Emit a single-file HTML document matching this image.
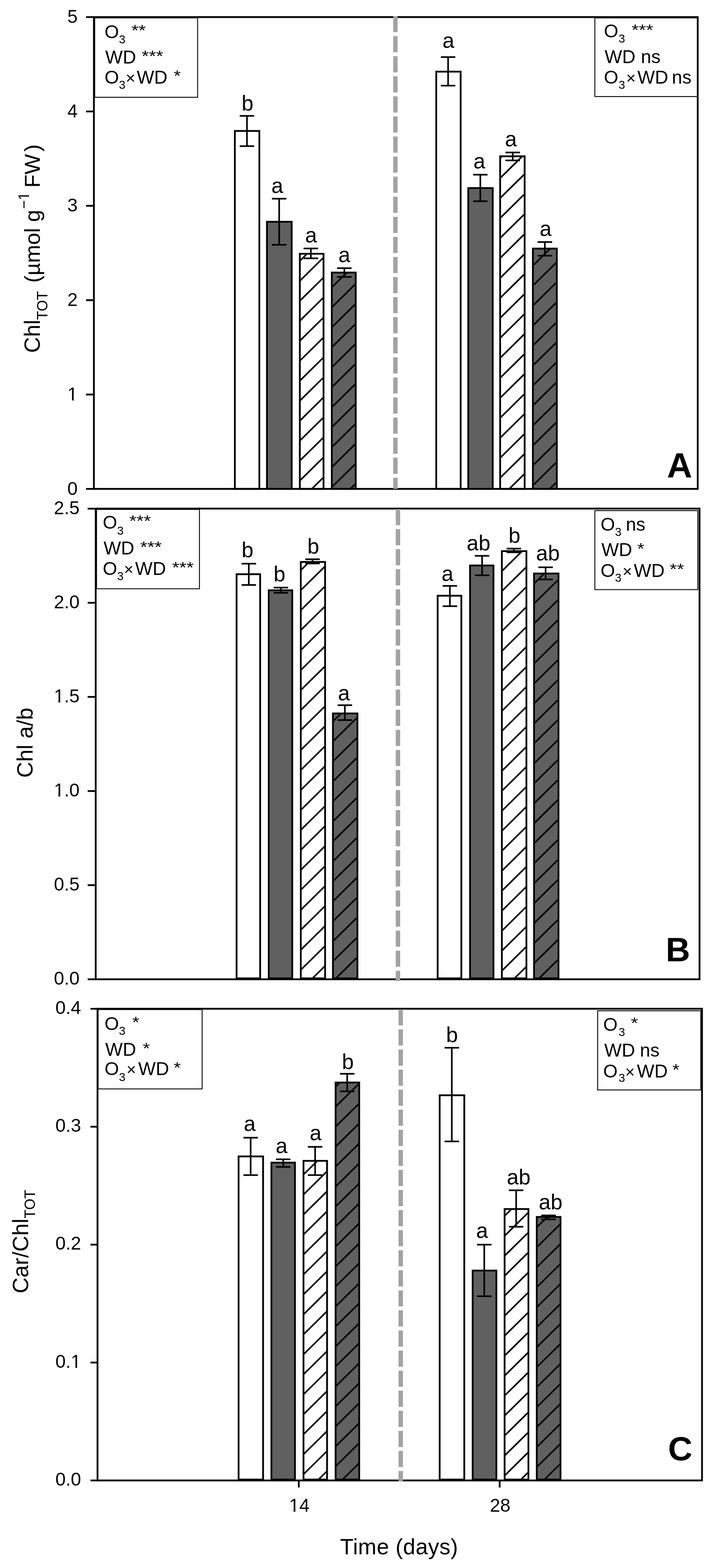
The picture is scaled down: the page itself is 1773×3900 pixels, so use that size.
<!DOCTYPE html><html><head><meta charset="utf-8"><title>Figure</title>
<style>html,body{margin:0;padding:0;background:#fff;}svg{display:block;}text{font-family:"Liberation Sans", Arial, sans-serif;fill:#000;}</style></head><body>
<svg width="1773" height="3900" viewBox="0 0 1773 3900">
<rect x="0" y="0" width="1773" height="3900" fill="#fff"/>
<defs><clipPath id="c1"><rect x="747.8" y="633.4" width="54.5" height="580.4"/></clipPath><clipPath id="c2"><rect x="827.3" y="680.1" width="55.1" height="533.7"/></clipPath><clipPath id="c3"><rect x="1245.9" y="390.9" width="56.5" height="822.9"/></clipPath><clipPath id="c4"><rect x="1327.3" y="620.5" width="55.1" height="593.3"/></clipPath><clipPath id="c5"><rect x="750.2" y="1399.9" width="56.0" height="1031.3"/></clipPath><clipPath id="c6"><rect x="830.1" y="1776.7" width="56.5" height="654.5"/></clipPath><clipPath id="c7"><rect x="1250.2" y="1373.0" width="56.6" height="1058.2"/></clipPath><clipPath id="c8"><rect x="1330.1" y="1428.7" width="56.5" height="1002.5"/></clipPath><clipPath id="c9"><rect x="756.9" y="2889.5" width="54.2" height="788.3"/></clipPath><clipPath id="c10"><rect x="836.8" y="2694.7" width="54.2" height="983.1"/></clipPath><clipPath id="c11"><rect x="1257.0" y="3009.4" width="54.8" height="668.4"/></clipPath><clipPath id="c12"><rect x="1337.0" y="3029.0" width="54.6" height="648.8"/></clipPath><clipPath id="nofoot2" clipPathUnits="userSpaceOnUse"><path clip-rule="evenodd" d="M-1000 -100H0V100H-1000ZM-496.34 -30.28H-489.09V-25.10H-496.34ZM-485.46 -30.28H-478.21V-25.10H-485.46Z"/></clipPath><clipPath id="nofoot" clipPathUnits="userSpaceOnUse"><path clip-rule="evenodd" d="M0 0H1773V3900H0ZM169.92 991.84H178.93V997.80H169.92ZM183.44 991.84H192.46V997.80H183.44ZM136.15 1976.84H145.17V1982.80H136.15ZM149.68 1976.84H158.69V1982.80H149.68ZM136.15 1742.74H145.17V1748.70H136.15ZM149.68 1742.74H158.69V1748.70H149.68ZM178.32 3397.64H187.33V3403.60H178.32ZM191.84 3397.64H200.86V3403.60H191.84ZM721.02 3755.64H730.03V3761.60H721.02ZM734.54 3755.64H743.56V3761.60H734.54Z"/></clipPath></defs>
<rect x="584.0" y="325.7" width="60.9" height="890.3" fill="#fff"/>
<rect x="584.0" y="325.7" width="60.9" height="890.3" fill="none" stroke="#000" stroke-width="4.4"/>
<rect x="663.8" y="551.6" width="61.5" height="664.4" fill="#606060"/>
<rect x="663.8" y="551.6" width="61.5" height="664.4" fill="none" stroke="#000" stroke-width="4.4"/>
<rect x="745.6" y="631.2" width="58.9" height="584.8" fill="#fff"/>
<path clip-path="url(#c1)" d="M741.8 503.5L808.3 438.0M741.8 553.2L808.3 487.7M741.8 602.9L808.3 537.4M741.8 652.6L808.3 587.1M741.8 702.3L808.3 636.8M741.8 752.0L808.3 686.5M741.8 801.7L808.3 736.2M741.8 851.4L808.3 785.9M741.8 901.1L808.3 835.6M741.8 950.8L808.3 885.3M741.8 1000.5L808.3 935.0M741.8 1050.2L808.3 984.7M741.8 1099.9L808.3 1034.4M741.8 1149.6L808.3 1084.1M741.8 1199.3L808.3 1133.8M741.8 1249.0L808.3 1183.5M741.8 1298.7L808.3 1233.2" stroke="#000" stroke-width="4.0" fill="none"/>
<rect x="745.6" y="631.2" width="58.9" height="584.8" fill="none" stroke="#000" stroke-width="4.4"/>
<rect x="825.1" y="677.9" width="59.5" height="538.1" fill="#606060"/>
<path clip-path="url(#c2)" d="M821.3 569.3L888.4 503.2M821.3 619.0L888.4 552.9M821.3 668.7L888.4 602.6M821.3 718.4L888.4 652.3M821.3 768.1L888.4 702.0M821.3 817.8L888.4 751.7M821.3 867.5L888.4 801.4M821.3 917.2L888.4 851.1M821.3 966.9L888.4 900.8M821.3 1016.6L888.4 950.5M821.3 1066.3L888.4 1000.2M821.3 1116.0L888.4 1049.9M821.3 1165.7L888.4 1099.6M821.3 1215.4L888.4 1149.3M821.3 1265.1L888.4 1199.0M821.3 1314.8L888.4 1248.7" stroke="#000" stroke-width="4.0" fill="none"/>
<rect x="825.1" y="677.9" width="59.5" height="538.1" fill="none" stroke="#000" stroke-width="4.4"/>
<rect x="1084.8" y="178.2" width="60.7" height="1037.8" fill="#fff"/>
<rect x="1084.8" y="178.2" width="60.7" height="1037.8" fill="none" stroke="#000" stroke-width="4.4"/>
<rect x="1164.4" y="467.7" width="60.9" height="748.3" fill="#606060"/>
<rect x="1164.4" y="467.7" width="60.9" height="748.3" fill="none" stroke="#000" stroke-width="4.4"/>
<rect x="1243.7" y="388.7" width="60.9" height="827.3" fill="#fff"/>
<path clip-path="url(#c3)" d="M1239.9 248.0L1308.4 180.5M1239.9 297.7L1308.4 230.2M1239.9 347.4L1308.4 279.9M1239.9 397.1L1308.4 329.6M1239.9 446.8L1308.4 379.3M1239.9 496.5L1308.4 429.0M1239.9 546.2L1308.4 478.7M1239.9 595.9L1308.4 528.4M1239.9 645.6L1308.4 578.1M1239.9 695.3L1308.4 627.8M1239.9 745.0L1308.4 677.5M1239.9 794.7L1308.4 727.2M1239.9 844.4L1308.4 776.9M1239.9 894.1L1308.4 826.6M1239.9 943.8L1308.4 876.3M1239.9 993.5L1308.4 926.0M1239.9 1043.2L1308.4 975.7M1239.9 1092.9L1308.4 1025.4M1239.9 1142.6L1308.4 1075.1M1239.9 1192.3L1308.4 1124.8M1239.9 1242.0L1308.4 1174.5M1239.9 1291.7L1308.4 1224.2" stroke="#000" stroke-width="4.0" fill="none"/>
<rect x="1243.7" y="388.7" width="60.9" height="827.3" fill="none" stroke="#000" stroke-width="4.4"/>
<rect x="1325.1" y="618.3" width="59.5" height="597.7" fill="#606060"/>
<path clip-path="url(#c4)" d="M1321.3 515.5L1388.4 449.4M1321.3 565.2L1388.4 499.1M1321.3 614.9L1388.4 548.8M1321.3 664.6L1388.4 598.5M1321.3 714.3L1388.4 648.2M1321.3 764.0L1388.4 697.9M1321.3 813.7L1388.4 747.6M1321.3 863.4L1388.4 797.3M1321.3 913.1L1388.4 847.0M1321.3 962.8L1388.4 896.7M1321.3 1012.5L1388.4 946.4M1321.3 1062.2L1388.4 996.1M1321.3 1111.9L1388.4 1045.8M1321.3 1161.6L1388.4 1095.5M1321.3 1211.3L1388.4 1145.2M1321.3 1261.0L1388.4 1194.9M1321.3 1310.7L1388.4 1244.6" stroke="#000" stroke-width="4.0" fill="none"/>
<rect x="1325.1" y="618.3" width="59.5" height="597.7" fill="none" stroke="#000" stroke-width="4.4"/>
<path d="M614.1 288.2V363.5M596.1 288.2H632.1M596.1 363.5H632.1" stroke="#000" stroke-width="4.0" fill="none"/>
<text x="615.4" y="275.0" font-size="53" text-anchor="middle">b</text>
<path d="M694.2 494.2V609.0M676.2 494.2H712.2M676.2 609.0H712.2" stroke="#000" stroke-width="4.0" fill="none"/>
<text x="689.5" y="479.7" font-size="53" text-anchor="middle">a</text>
<path d="M773.0 618.0V642.5M755.0 618.0H791.0M755.0 642.5H791.0" stroke="#000" stroke-width="4.0" fill="none"/>
<text x="773.4" y="602.5" font-size="53" text-anchor="middle">a</text>
<path d="M856.3 667.0V688.7M838.3 667.0H874.3M838.3 688.7H874.3" stroke="#000" stroke-width="4.0" fill="none"/>
<text x="856.3" y="652.4" font-size="53" text-anchor="middle">a</text>
<path d="M1114.3 141.9V213.0M1096.3 141.9H1132.3M1096.3 213.0H1132.3" stroke="#000" stroke-width="4.0" fill="none"/>
<text x="1115.1" y="118.8" font-size="53" text-anchor="middle">a</text>
<path d="M1194.4 434.4V500.5M1176.4 434.4H1212.4M1176.4 500.5H1212.4" stroke="#000" stroke-width="4.0" fill="none"/>
<text x="1192.1" y="419.3" font-size="53" text-anchor="middle">a</text>
<path d="M1274.9 379.2V398.9M1256.9 379.2H1292.9M1256.9 398.9H1292.9" stroke="#000" stroke-width="4.0" fill="none"/>
<text x="1270.5" y="364.1" font-size="53" text-anchor="middle">a</text>
<path d="M1354.9 602.1V636.0M1336.9 602.1H1372.9M1336.9 636.0H1372.9" stroke="#000" stroke-width="4.0" fill="none"/>
<text x="1356.7" y="586.5" font-size="53" text-anchor="middle">a</text>
<rect x="235.5" y="44.5" width="255.9" height="197.5" fill="#fff" stroke="#000" stroke-width="2.2"/>
<text x="260.0" y="94.8" font-size="46">O</text>
<text x="295.7" y="107.6" font-size="29">3</text>
<text x="326.7" y="94.8" font-size="46" transform="matrix(1 0 0 0.83 0 10.74)">**</text>
<text x="261.8" y="158.0" font-size="46">WD</text>
<text x="352.3" y="158.0" font-size="46" transform="matrix(1 0 0 0.83 0 21.49)">***</text>
<text x="260.0" y="207.7" font-size="46">O</text>
<text x="295.7" y="220.5" font-size="29">3</text>
<text x="312.4" y="207.7" font-size="41">×</text>
<text x="339.9" y="207.7" font-size="46">WD</text>
<text x="431.8" y="207.7" font-size="46" transform="matrix(1 0 0 0.83 0 29.94)">*</text>
<rect x="1479.2" y="44.5" width="256.7" height="195.6" fill="#fff" stroke="#000" stroke-width="2.2"/>
<text x="1501.7" y="93.3" font-size="46">O</text>
<text x="1538.2" y="106.2" font-size="29">3</text>
<text x="1570.6" y="93.3" font-size="46" transform="matrix(1 0 0 0.83 0 10.49)">***</text>
<text x="1503.5" y="156.8" font-size="46">WD</text>
<text x="1593.8" y="156.8" font-size="46">ns</text>
<text x="1501.7" y="207.7" font-size="46">O</text>
<text x="1538.2" y="220.6" font-size="29">3</text>
<text x="1557.1" y="207.7" font-size="41">×</text>
<text x="1585.0" y="207.7" font-size="46">WD</text>
<text x="1670.8" y="207.7" font-size="46">ns</text>
<path d="M233.5 42.5H1735.0V1216.0H233.5Z" stroke="#000" stroke-width="4.4" fill="none" stroke-linejoin="miter"/>
<line x1="983.2" y1="39.9" x2="983.2" y2="1216.0" stroke="#a3a3a3" stroke-width="11" stroke-dasharray="40.2 9.73"/>
<line x1="214.0" y1="1216.0" x2="233.5" y2="1216.0" stroke="#000" stroke-width="4.4"/>
<text x="167.6" y="1230.5" font-size="46" clip-path="url(#nofoot)">0</text>
<line x1="214.0" y1="981.3" x2="233.5" y2="981.3" stroke="#000" stroke-width="4.4"/>
<text x="167.6" y="995.8" font-size="46" clip-path="url(#nofoot)">1</text>
<line x1="214.0" y1="746.6" x2="233.5" y2="746.6" stroke="#000" stroke-width="4.4"/>
<text x="167.6" y="761.1" font-size="46" clip-path="url(#nofoot)">2</text>
<line x1="214.0" y1="511.9" x2="233.5" y2="511.9" stroke="#000" stroke-width="4.4"/>
<text x="167.6" y="526.4" font-size="46" clip-path="url(#nofoot)">3</text>
<line x1="214.0" y1="277.2" x2="233.5" y2="277.2" stroke="#000" stroke-width="4.4"/>
<text x="167.6" y="291.7" font-size="46" clip-path="url(#nofoot)">4</text>
<line x1="214.0" y1="42.5" x2="233.5" y2="42.5" stroke="#000" stroke-width="4.4"/>
<text x="167.6" y="57.0" font-size="46" clip-path="url(#nofoot)">5</text>
<text x="1658.4" y="1186.9" font-size="87" font-weight="bold">A</text>
<rect x="588.3" y="1428.2" width="58.6" height="1005.2" fill="#fff"/>
<rect x="588.3" y="1428.2" width="58.6" height="1005.2" fill="none" stroke="#000" stroke-width="4.4"/>
<rect x="668.2" y="1468.2" width="58.6" height="965.2" fill="#606060"/>
<rect x="668.2" y="1468.2" width="58.6" height="965.2" fill="none" stroke="#000" stroke-width="4.4"/>
<rect x="748.0" y="1397.7" width="60.4" height="1035.7" fill="#fff"/>
<path clip-path="url(#c5)" d="M744.2 1272.9L812.2 1205.9M744.2 1322.6L812.2 1255.6M744.2 1372.3L812.2 1305.3M744.2 1422.0L812.2 1355.0M744.2 1471.7L812.2 1404.7M744.2 1521.4L812.2 1454.4M744.2 1571.1L812.2 1504.1M744.2 1620.8L812.2 1553.8M744.2 1670.5L812.2 1603.5M744.2 1720.2L812.2 1653.2M744.2 1769.9L812.2 1702.9M744.2 1819.6L812.2 1752.6M744.2 1869.3L812.2 1802.3M744.2 1919.0L812.2 1852.0M744.2 1968.7L812.2 1901.7M744.2 2018.4L812.2 1951.4M744.2 2068.1L812.2 2001.1M744.2 2117.8L812.2 2050.8M744.2 2167.5L812.2 2100.5M744.2 2217.2L812.2 2150.2M744.2 2266.9L812.2 2199.9M744.2 2316.6L812.2 2249.6M744.2 2366.3L812.2 2299.3M744.2 2416.0L812.2 2349.0M744.2 2465.7L812.2 2398.7M744.2 2515.4L812.2 2448.4" stroke="#000" stroke-width="4.0" fill="none"/>
<rect x="748.0" y="1397.7" width="60.4" height="1035.7" fill="none" stroke="#000" stroke-width="4.4"/>
<rect x="827.9" y="1774.5" width="60.9" height="658.9" fill="#606060"/>
<path clip-path="url(#c6)" d="M824.1 1649.1L892.6 1581.7M824.1 1698.8L892.6 1631.4M824.1 1748.5L892.6 1681.1M824.1 1798.2L892.6 1730.8M824.1 1847.9L892.6 1780.5M824.1 1897.6L892.6 1830.2M824.1 1947.3L892.6 1879.9M824.1 1997.0L892.6 1929.6M824.1 2046.7L892.6 1979.3M824.1 2096.4L892.6 2029.0M824.1 2146.1L892.6 2078.7M824.1 2195.8L892.6 2128.4M824.1 2245.5L892.6 2178.1M824.1 2295.2L892.6 2227.8M824.1 2344.9L892.6 2277.5M824.1 2394.6L892.6 2327.2M824.1 2444.3L892.6 2376.9M824.1 2494.0L892.6 2426.6" stroke="#000" stroke-width="4.0" fill="none"/>
<rect x="827.9" y="1774.5" width="60.9" height="658.9" fill="none" stroke="#000" stroke-width="4.4"/>
<rect x="1088.3" y="1481.7" width="58.9" height="951.7" fill="#fff"/>
<rect x="1088.3" y="1481.7" width="58.9" height="951.7" fill="none" stroke="#000" stroke-width="4.4"/>
<rect x="1168.8" y="1406.5" width="58.3" height="1026.9" fill="#606060"/>
<rect x="1168.8" y="1406.5" width="58.3" height="1026.9" fill="none" stroke="#000" stroke-width="4.4"/>
<rect x="1248.0" y="1370.8" width="61.0" height="1062.6" fill="#fff"/>
<path clip-path="url(#c7)" d="M1244.2 1225.5L1312.8 1157.9M1244.2 1275.2L1312.8 1207.6M1244.2 1324.9L1312.8 1257.3M1244.2 1374.6L1312.8 1307.0M1244.2 1424.3L1312.8 1356.7M1244.2 1474.0L1312.8 1406.4M1244.2 1523.7L1312.8 1456.1M1244.2 1573.4L1312.8 1505.8M1244.2 1623.1L1312.8 1555.5M1244.2 1672.8L1312.8 1605.2M1244.2 1722.5L1312.8 1654.9M1244.2 1772.2L1312.8 1704.6M1244.2 1821.9L1312.8 1754.3M1244.2 1871.6L1312.8 1804.0M1244.2 1921.3L1312.8 1853.7M1244.2 1971.0L1312.8 1903.4M1244.2 2020.7L1312.8 1953.1M1244.2 2070.4L1312.8 2002.8M1244.2 2120.1L1312.8 2052.5M1244.2 2169.8L1312.8 2102.2M1244.2 2219.5L1312.8 2151.9M1244.2 2269.2L1312.8 2201.6M1244.2 2318.9L1312.8 2251.3M1244.2 2368.6L1312.8 2301.0M1244.2 2418.3L1312.8 2350.7M1244.2 2468.0L1312.8 2400.4M1244.2 2517.7L1312.8 2450.1" stroke="#000" stroke-width="4.0" fill="none"/>
<rect x="1248.0" y="1370.8" width="61.0" height="1062.6" fill="none" stroke="#000" stroke-width="4.4"/>
<rect x="1327.9" y="1426.5" width="60.9" height="1006.9" fill="#606060"/>
<path clip-path="url(#c8)" d="M1324.1 1306.4L1392.6 1238.9M1324.1 1356.1L1392.6 1288.6M1324.1 1405.8L1392.6 1338.3M1324.1 1455.5L1392.6 1388.0M1324.1 1505.2L1392.6 1437.7M1324.1 1554.9L1392.6 1487.4M1324.1 1604.6L1392.6 1537.1M1324.1 1654.3L1392.6 1586.8M1324.1 1704.0L1392.6 1636.5M1324.1 1753.7L1392.6 1686.2M1324.1 1803.4L1392.6 1735.9M1324.1 1853.1L1392.6 1785.6M1324.1 1902.8L1392.6 1835.3M1324.1 1952.5L1392.6 1885.0M1324.1 2002.2L1392.6 1934.7M1324.1 2051.9L1392.6 1984.4M1324.1 2101.6L1392.6 2034.1M1324.1 2151.3L1392.6 2083.8M1324.1 2201.0L1392.6 2133.5M1324.1 2250.7L1392.6 2183.2M1324.1 2300.4L1392.6 2232.9M1324.1 2350.1L1392.6 2282.6M1324.1 2399.8L1392.6 2332.3M1324.1 2449.5L1392.6 2382.0M1324.1 2499.2L1392.6 2431.7" stroke="#000" stroke-width="4.0" fill="none"/>
<rect x="1327.9" y="1426.5" width="60.9" height="1006.9" fill="none" stroke="#000" stroke-width="4.4"/>
<path d="M618.7 1402.0V1454.9M600.7 1402.0H636.7M600.7 1454.9H636.7" stroke="#000" stroke-width="4.0" fill="none"/>
<text x="615.4" y="1385.6" font-size="53" text-anchor="middle">b</text>
<path d="M698.5 1461.5V1474.6M680.5 1461.5H716.5M680.5 1474.6H716.5" stroke="#000" stroke-width="4.0" fill="none"/>
<text x="695.0" y="1445.7" font-size="53" text-anchor="middle">b</text>
<path d="M777.2 1391.1V1401.5M759.2 1391.1H795.2M759.2 1401.5H795.2" stroke="#000" stroke-width="4.0" fill="none"/>
<text x="779.1" y="1376.9" font-size="53" text-anchor="middle">b</text>
<path d="M857.6 1754.0V1791.1M839.6 1754.0H875.6M839.6 1791.1H875.6" stroke="#000" stroke-width="4.0" fill="none"/>
<text x="855.2" y="1741.8" font-size="53" text-anchor="middle">a</text>
<path d="M1118.7 1457.2V1507.8M1100.7 1457.2H1136.7M1100.7 1507.8H1136.7" stroke="#000" stroke-width="4.0" fill="none"/>
<text x="1112.7" y="1444.9" font-size="53" text-anchor="middle">a</text>
<path d="M1198.8 1382.4V1430.9M1180.8 1382.4H1216.8M1180.8 1430.9H1216.8" stroke="#000" stroke-width="4.0" fill="none"/>
<text x="1190.0" y="1369.4" font-size="53" text-anchor="middle">ab</text>
<path d="M1277.8 1364.4V1373.7M1259.8 1364.4H1295.8M1259.8 1373.7H1295.8" stroke="#000" stroke-width="4.0" fill="none"/>
<text x="1279.2" y="1350.0" font-size="53" text-anchor="middle">b</text>
<path d="M1356.7 1411.1V1441.2M1338.7 1411.1H1374.7M1338.7 1441.2H1374.7" stroke="#000" stroke-width="4.0" fill="none"/>
<text x="1362.5" y="1394.1" font-size="53" text-anchor="middle">ab</text>
<rect x="240.1" y="1267.0" width="255.9" height="197.4" fill="#fff" stroke="#000" stroke-width="2.2"/>
<text x="255.6" y="1314.8" font-size="46">O</text>
<text x="291.3" y="1329.6" font-size="29">3</text>
<text x="321.6" y="1314.8" font-size="46" transform="matrix(1 0 0 0.83 0 218.14)">***</text>
<text x="257.4" y="1379.2" font-size="46">WD</text>
<text x="348.5" y="1379.2" font-size="46" transform="matrix(1 0 0 0.83 0 229.09)">***</text>
<text x="255.6" y="1430.1" font-size="46">O</text>
<text x="291.3" y="1443.0" font-size="29">3</text>
<text x="308.1" y="1430.1" font-size="41">×</text>
<text x="336.1" y="1430.1" font-size="46">WD</text>
<text x="427.9" y="1430.1" font-size="46" transform="matrix(1 0 0 0.83 0 237.74)">***</text>
<rect x="1479.2" y="1270.0" width="256.0" height="196.5" fill="#fff" stroke="#000" stroke-width="2.2"/>
<text x="1493.6" y="1320.0" font-size="46">O</text>
<text x="1529.3" y="1333.0" font-size="29">3</text>
<text x="1556.2" y="1320.0" font-size="46">ns</text>
<text x="1495.4" y="1383.0" font-size="46">WD</text>
<text x="1584.6" y="1383.0" font-size="46" transform="matrix(1 0 0 0.83 0 229.74)">*</text>
<text x="1493.6" y="1434.6" font-size="46">O</text>
<text x="1529.3" y="1447.0" font-size="29">3</text>
<text x="1548.1" y="1434.6" font-size="41">×</text>
<text x="1576.1" y="1434.6" font-size="46">WD</text>
<text x="1665.3" y="1434.6" font-size="46" transform="matrix(1 0 0 0.83 0 238.51)">**</text>
<path d="M238.0 1265.0H1739.5V2435.7H238.0Z" stroke="#000" stroke-width="4.4" fill="none" stroke-linejoin="miter"/>
<line x1="989.6" y1="1266.0" x2="989.6" y2="2440.0" stroke="#a3a3a3" stroke-width="11" stroke-dasharray="40.2 9.73"/>
<line x1="218.0" y1="2435.7" x2="238.0" y2="2435.7" stroke="#000" stroke-width="4.4"/>
<text x="133.9" y="2449.0" font-size="46" clip-path="url(#nofoot)">0.0</text>
<line x1="218.0" y1="2201.6" x2="238.0" y2="2201.6" stroke="#000" stroke-width="4.4"/>
<text x="133.9" y="2214.9" font-size="46" clip-path="url(#nofoot)">0.5</text>
<line x1="218.0" y1="1967.5" x2="238.0" y2="1967.5" stroke="#000" stroke-width="4.4"/>
<text x="133.9" y="1980.8" font-size="46" clip-path="url(#nofoot)">1.0</text>
<line x1="218.0" y1="1733.4" x2="238.0" y2="1733.4" stroke="#000" stroke-width="4.4"/>
<text x="133.9" y="1746.7" font-size="46" clip-path="url(#nofoot)">1.5</text>
<line x1="218.0" y1="1499.3" x2="238.0" y2="1499.3" stroke="#000" stroke-width="4.4"/>
<text x="133.9" y="1512.6" font-size="46" clip-path="url(#nofoot)">2.0</text>
<line x1="218.0" y1="1265.2" x2="238.0" y2="1265.2" stroke="#000" stroke-width="4.4"/>
<text x="133.9" y="1278.5" font-size="46" clip-path="url(#nofoot)">2.5</text>
<text x="1655.6" y="2390.5" font-size="84" font-weight="bold">B</text>
<rect x="593.3" y="2876.3" width="60.9" height="803.7" fill="#fff"/>
<rect x="593.3" y="2876.3" width="60.9" height="803.7" fill="none" stroke="#000" stroke-width="4.4"/>
<rect x="674.9" y="2891.7" width="58.6" height="788.3" fill="#606060"/>
<rect x="674.9" y="2891.7" width="58.6" height="788.3" fill="none" stroke="#000" stroke-width="4.4"/>
<rect x="754.7" y="2887.3" width="58.6" height="792.7" fill="#fff"/>
<path clip-path="url(#c9)" d="M750.9 2776.1L817.1 2710.9M750.9 2825.8L817.1 2760.6M750.9 2875.5L817.1 2810.3M750.9 2925.2L817.1 2860.0M750.9 2974.9L817.1 2909.7M750.9 3024.6L817.1 2959.4M750.9 3074.3L817.1 3009.1M750.9 3124.0L817.1 3058.8M750.9 3173.7L817.1 3108.5M750.9 3223.4L817.1 3158.2M750.9 3273.1L817.1 3207.9M750.9 3322.8L817.1 3257.6M750.9 3372.5L817.1 3307.3M750.9 3422.2L817.1 3357.0M750.9 3471.9L817.1 3406.7M750.9 3521.6L817.1 3456.4M750.9 3571.3L817.1 3506.1M750.9 3621.0L817.1 3555.8M750.9 3670.7L817.1 3605.5M750.9 3720.4L817.1 3655.2M750.9 3770.1L817.1 3704.9" stroke="#000" stroke-width="4.0" fill="none"/>
<rect x="754.7" y="2887.3" width="58.6" height="792.7" fill="none" stroke="#000" stroke-width="4.4"/>
<rect x="834.6" y="2692.5" width="58.6" height="987.5" fill="#606060"/>
<path clip-path="url(#c10)" d="M830.8 2557.5L897.0 2492.3M830.8 2607.2L897.0 2542.0M830.8 2656.9L897.0 2591.7M830.8 2706.6L897.0 2641.4M830.8 2756.3L897.0 2691.1M830.8 2806.0L897.0 2740.8M830.8 2855.7L897.0 2790.5M830.8 2905.4L897.0 2840.2M830.8 2955.1L897.0 2889.9M830.8 3004.8L897.0 2939.6M830.8 3054.5L897.0 2989.3M830.8 3104.2L897.0 3039.0M830.8 3153.9L897.0 3088.7M830.8 3203.6L897.0 3138.4M830.8 3253.3L897.0 3188.1M830.8 3303.0L897.0 3237.8M830.8 3352.7L897.0 3287.5M830.8 3402.4L897.0 3337.2M830.8 3452.1L897.0 3386.9M830.8 3501.8L897.0 3436.6M830.8 3551.5L897.0 3486.3M830.8 3601.2L897.0 3536.0M830.8 3650.9L897.0 3585.7M830.8 3700.6L897.0 3635.4M830.8 3750.3L897.0 3685.1" stroke="#000" stroke-width="4.0" fill="none"/>
<rect x="834.6" y="2692.5" width="58.6" height="987.5" fill="none" stroke="#000" stroke-width="4.4"/>
<rect x="1093.3" y="2724.2" width="61.2" height="955.8" fill="#fff"/>
<rect x="1093.3" y="2724.2" width="61.2" height="955.8" fill="none" stroke="#000" stroke-width="4.4"/>
<rect x="1175.4" y="3160.2" width="58.9" height="519.8" fill="#606060"/>
<rect x="1175.4" y="3160.2" width="58.9" height="519.8" fill="none" stroke="#000" stroke-width="4.4"/>
<rect x="1254.8" y="3007.2" width="59.2" height="672.8" fill="#fff"/>
<path clip-path="url(#c11)" d="M1251.0 2878.8L1317.8 2813.0M1251.0 2928.5L1317.8 2862.7M1251.0 2978.2L1317.8 2912.4M1251.0 3027.9L1317.8 2962.1M1251.0 3077.6L1317.8 3011.8M1251.0 3127.3L1317.8 3061.5M1251.0 3177.0L1317.8 3111.2M1251.0 3226.7L1317.8 3160.9M1251.0 3276.4L1317.8 3210.6M1251.0 3326.1L1317.8 3260.3M1251.0 3375.8L1317.8 3310.0M1251.0 3425.5L1317.8 3359.7M1251.0 3475.2L1317.8 3409.4M1251.0 3524.9L1317.8 3459.1M1251.0 3574.6L1317.8 3508.8M1251.0 3624.3L1317.8 3558.5M1251.0 3674.0L1317.8 3608.2M1251.0 3723.7L1317.8 3657.9M1251.0 3773.4L1317.8 3707.6" stroke="#000" stroke-width="4.0" fill="none"/>
<rect x="1254.8" y="3007.2" width="59.2" height="672.8" fill="none" stroke="#000" stroke-width="4.4"/>
<rect x="1334.8" y="3026.8" width="59.0" height="653.2" fill="#606060"/>
<path clip-path="url(#c12)" d="M1331.0 2907.2L1397.6 2841.6M1331.0 2956.9L1397.6 2891.3M1331.0 3006.6L1397.6 2941.0M1331.0 3056.3L1397.6 2990.7M1331.0 3106.0L1397.6 3040.4M1331.0 3155.7L1397.6 3090.1M1331.0 3205.4L1397.6 3139.8M1331.0 3255.1L1397.6 3189.5M1331.0 3304.8L1397.6 3239.2M1331.0 3354.5L1397.6 3288.9M1331.0 3404.2L1397.6 3338.6M1331.0 3453.9L1397.6 3388.3M1331.0 3503.6L1397.6 3438.0M1331.0 3553.3L1397.6 3487.7M1331.0 3603.0L1397.6 3537.4M1331.0 3652.7L1397.6 3587.1M1331.0 3702.4L1397.6 3636.8M1331.0 3752.1L1397.6 3686.5" stroke="#000" stroke-width="4.0" fill="none"/>
<rect x="1334.8" y="3026.8" width="59.0" height="653.2" fill="none" stroke="#000" stroke-width="4.4"/>
<path d="M623.3 2829.8V2922.7M605.3 2829.8H641.3M605.3 2922.7H641.3" stroke="#000" stroke-width="4.0" fill="none"/>
<text x="621.0" y="2813.4" font-size="53" text-anchor="middle">a</text>
<path d="M704.3 2883.5V2902.4M686.3 2883.5H722.3M686.3 2902.4H722.3" stroke="#000" stroke-width="4.0" fill="none"/>
<text x="700.2" y="2867.7" font-size="53" text-anchor="middle">a</text>
<path d="M783.6 2852.5V2922.7M765.6 2852.5H801.6M765.6 2922.7H801.6" stroke="#000" stroke-width="4.0" fill="none"/>
<text x="784.7" y="2835.7" font-size="53" text-anchor="middle">a</text>
<path d="M863.4 2670.8V2714.5M845.4 2670.8H881.4M845.4 2714.5H881.4" stroke="#000" stroke-width="4.0" fill="none"/>
<text x="864.9" y="2658.6" font-size="53" text-anchor="middle">b</text>
<path d="M1123.5 2606.0V2838.9M1105.5 2606.0H1141.5M1105.5 2838.9H1141.5" stroke="#000" stroke-width="4.0" fill="none"/>
<text x="1123.9" y="2592.3" font-size="53" text-anchor="middle">b</text>
<path d="M1204.2 3095.7V3223.9M1186.2 3095.7H1222.2M1186.2 3223.9H1222.2" stroke="#000" stroke-width="4.0" fill="none"/>
<text x="1198.8" y="3078.5" font-size="53" text-anchor="middle">a</text>
<path d="M1283.5 2960.6V3051.2M1265.5 2960.6H1301.5M1265.5 3051.2H1301.5" stroke="#000" stroke-width="4.0" fill="none"/>
<text x="1289.8" y="2945.9" font-size="53" text-anchor="middle">ab</text>
<path d="M1364.1 3023.0V3032.9M1346.1 3023.0H1382.1M1346.1 3032.9H1382.1" stroke="#000" stroke-width="4.0" fill="none"/>
<text x="1369.2" y="3008.4" font-size="53" text-anchor="middle">ab</text>
<rect x="244.0" y="2511.0" width="258.6" height="197.4" fill="#fff" stroke="#000" stroke-width="2.2"/>
<text x="260.0" y="2561.6" font-size="46">O</text>
<text x="295.7" y="2574.0" font-size="29">3</text>
<text x="328.8" y="2561.6" font-size="46" transform="matrix(1 0 0 0.83 0 430.10)">*</text>
<text x="261.8" y="2626.0" font-size="46">WD</text>
<text x="354.9" y="2626.0" font-size="46" transform="matrix(1 0 0 0.83 0 441.05)">*</text>
<text x="260.0" y="2674.0" font-size="46">O</text>
<text x="295.7" y="2689.3" font-size="29">3</text>
<text x="314.5" y="2674.0" font-size="41">×</text>
<text x="343.8" y="2674.0" font-size="46">WD</text>
<text x="431.8" y="2674.0" font-size="46" transform="matrix(1 0 0 0.83 0 449.21)">*</text>
<rect x="1486.2" y="2514.0" width="256.4" height="197.0" fill="#fff" stroke="#000" stroke-width="2.2"/>
<text x="1500.0" y="2563.7" font-size="46">O</text>
<text x="1538.2" y="2577.1" font-size="29">3</text>
<text x="1568.8" y="2563.7" font-size="46" transform="matrix(1 0 0 0.83 0 430.46)">*</text>
<text x="1502.5" y="2628.0" font-size="46">WD</text>
<text x="1591.3" y="2628.0" font-size="46">ns</text>
<text x="1500.0" y="2679.5" font-size="46">O</text>
<text x="1538.2" y="2691.4" font-size="29">3</text>
<text x="1554.5" y="2679.5" font-size="41">×</text>
<text x="1583.8" y="2679.5" font-size="46">WD</text>
<text x="1671.8" y="2679.5" font-size="46" transform="matrix(1 0 0 0.83 0 450.14)">*</text>
<path d="M242.5 2509.0H1745.7V3682.3H242.5Z" stroke="#000" stroke-width="4.4" fill="none" stroke-linejoin="miter"/>
<line x1="996.5" y1="2510.4" x2="996.5" y2="3684.5" stroke="#a3a3a3" stroke-width="11" stroke-dasharray="40.2 9.73"/>
<line x1="225.0" y1="3682.3" x2="242.5" y2="3682.3" stroke="#000" stroke-width="4.4"/>
<text x="137.7" y="3694.9" font-size="46" clip-path="url(#nofoot)">0.0</text>
<line x1="225.0" y1="3389.0" x2="242.5" y2="3389.0" stroke="#000" stroke-width="4.4"/>
<text x="137.7" y="3401.6" font-size="46" clip-path="url(#nofoot)">0.1</text>
<line x1="225.0" y1="3095.7" x2="242.5" y2="3095.7" stroke="#000" stroke-width="4.4"/>
<text x="137.7" y="3108.3" font-size="46" clip-path="url(#nofoot)">0.2</text>
<line x1="225.0" y1="2802.4" x2="242.5" y2="2802.4" stroke="#000" stroke-width="4.4"/>
<text x="137.7" y="2815.0" font-size="46" clip-path="url(#nofoot)">0.3</text>
<line x1="225.0" y1="2509.1" x2="242.5" y2="2509.1" stroke="#000" stroke-width="4.4"/>
<text x="137.7" y="2521.7" font-size="46" clip-path="url(#nofoot)">0.4</text>
<text x="1661.2" y="3632.3" font-size="84" font-weight="bold">C</text>
<line x1="743.0" y1="3682.3" x2="743.0" y2="3699.8" stroke="#000" stroke-width="4.4"/>
<text x="718.7" y="3759.6" font-size="46" clip-path="url(#nofoot)">14</text>
<line x1="1242.5" y1="3682.3" x2="1242.5" y2="3699.8" stroke="#000" stroke-width="4.4"/>
<text x="1218.2" y="3759.6" font-size="46" clip-path="url(#nofoot)">28</text>
<text x="845.6" y="3865.6" font-size="55" textLength="293.2" lengthAdjust="spacing">Time (days)</text>
<g transform="translate(98.9 0) rotate(-90)" font-size="55"><text x="-877.8" y="0">Chl</text><text x="-795.5" y="19.2" font-size="36">TOT</text><text x="-703.2" y="0" font-size="54">(µmol g</text><text x="-519.8" y="-27.1" font-size="37" clip-path="url(#nofoot2)">−1</text><text x="-466.9" y="0" font-size="54">FW</text><text x="-377.0" y="0" font-size="54">)</text></g>
<text transform="translate(80.8 1934.5) rotate(-90)" font-size="55">Chl a/b</text>
<text transform="translate(69.5 3217.1) rotate(-90)" font-size="55">Car/Chl<tspan font-size="36" dy="17.1">TOT</tspan></text>
</svg></body></html>
